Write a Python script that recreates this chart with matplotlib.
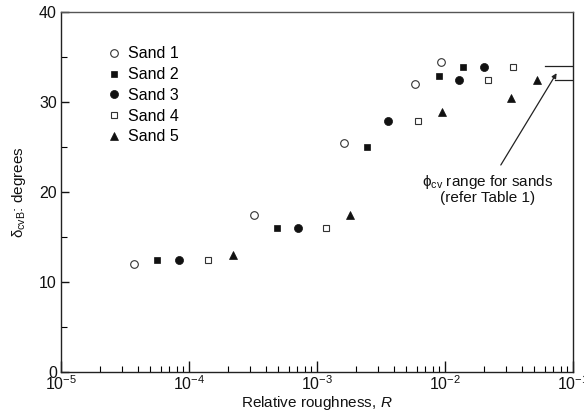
import matplotlib
matplotlib.use("Agg")
import matplotlib.pyplot as plt
from matplotlib.ticker import LogLocator, MultipleLocator, NullFormatter

plt.rcParams['font.family'] = ['Liberation Sans', 'DejaVu Sans']
plt.rcParams['mathtext.fontset'] = 'custom'
plt.rcParams['mathtext.rm'] = 'Liberation Sans'
plt.rcParams['mathtext.it'] = 'Liberation Sans:italic'

labels = ["Sand 1", "Sand 2", "Sand 3", "Sand 4", "Sand 5"]
sand1_R = [3.7e-5, 3.2e-4, 1.62e-3, 5.8e-3, 9.35e-3]
sand1_d = [12.0, 17.5, 25.5, 32.0, 34.4]
sand2_R = [5.6e-5, 4.9e-4, 2.47e-3, 8.9e-3, 1.38e-2]
sand2_d = [12.5, 16.0, 25.0, 32.9, 33.9]
sand3_R = [8.3e-5, 7.1e-4, 3.6e-3, 1.29e-2, 2.0e-2]
sand3_d = [12.5, 16.0, 27.9, 32.4, 33.9]
sand4_R = [1.4e-4, 1.17e-3, 6.1e-3, 2.17e-2, 3.4e-2]
sand4_d = [12.5, 16.0, 27.9, 32.4, 33.9]
sand5_R = [2.2e-4, 1.8e-3, 9.4e-3, 3.3e-2, 5.2e-2]
sand5_d = [13.0, 17.5, 28.9, 30.4, 32.4]
phi_cv_range = [32.4, 34.0]

fig = plt.figure(figsize=(5.84, 4.12), dpi=100)
ax = fig.add_axes([61/584, 40/412, 512/584, 360/412])

styles = [
    dict(marker='o', mfc='white', mec='#333333', ms=5.5, mew=0.8),
    dict(marker='s', mfc='#111111', mec='#111111', ms=4.8, mew=0.5),
    dict(marker='o', mfc='#111111', mec='#111111', ms=5.8, mew=0.5),
    dict(marker='s', mfc='white', mec='#333333', ms=4.8, mew=0.8),
    dict(marker='^', mfc='#111111', mec='#111111', ms=5.8, mew=0.5),
]
series = [(sand1_R, sand1_d), (sand2_R, sand2_d), (sand3_R, sand3_d),
          (sand4_R, sand4_d), (sand5_R, sand5_d)]
for (r, d), lab, st in zip(series, labels, styles):
    ax.plot(r, d, linestyle='none', label=lab, **st)

ax.set_xscale('log')
ax.set_xlim(1e-5, 1e-1)
ax.set_ylim(0, 40)

ax.xaxis.set_major_locator(LogLocator(base=10, numticks=10))
ax.xaxis.set_minor_locator(LogLocator(base=10, subs=range(2, 10), numticks=10))
ax.xaxis.set_minor_formatter(NullFormatter())
ax.yaxis.set_major_locator(MultipleLocator(10))
ax.yaxis.set_minor_locator(MultipleLocator(5))

ax.tick_params(axis='both', which='major', direction='in', length=8, width=1,
               labelsize=11.5, colors='#111111', pad=3)
ax.tick_params(axis='both', which='minor', direction='in', length=4, width=0.8)
ax.tick_params(axis='y', which='major', length=6)
ax.tick_params(axis='y', which='minor', length=4)
ax.tick_params(axis='x', which='major', pad=2)

for s in ax.spines.values():
    s.set_linewidth(1.0)
    s.set_color('#222222')
ax.spines['top'].set_color('#555555')

ax.set_xlabel(r'Relative roughness, $\mathit{R}$', fontsize=11, color='#111111')
ax.xaxis.set_label_coords(0.5, -0.062)
ax.set_ylabel('δ$_{\\mathrm{cvB}}$: degrees', fontsize=11, color='#111111', labelpad=8)

leg = ax.legend(loc='upper left', bbox_to_anchor=(0.0756, 0.922), frameon=False,
                fontsize=11.5, handletextpad=0.4, labelspacing=0.36, handlelength=1.0,
                borderaxespad=0)

ax.axhline(phi_cv_range[1], xmin=0.945, xmax=1.0, color='#222222', lw=0.9)
ax.axhline(phi_cv_range[0], xmin=0.965, xmax=1.0, color='#222222', lw=0.9)

ax.annotate('', xy=(0.968, 0.83), xycoords='axes fraction',
            xytext=(0.859, 0.575), textcoords='axes fraction',
            arrowprops=dict(arrowstyle='-|>', color='#222222', lw=0.9,
                            mutation_scale=7, shrinkA=0, shrinkB=0))
ax.text(0.833, 0.553, '\u03d5$_{\\mathrm{cv}}$ range for sands\n(refer Table 1)',
        transform=ax.transAxes, ha='center', va='top', fontsize=11,
        color='#111111', linespacing=1.05)

fig.savefig('out.png', dpi=100)
